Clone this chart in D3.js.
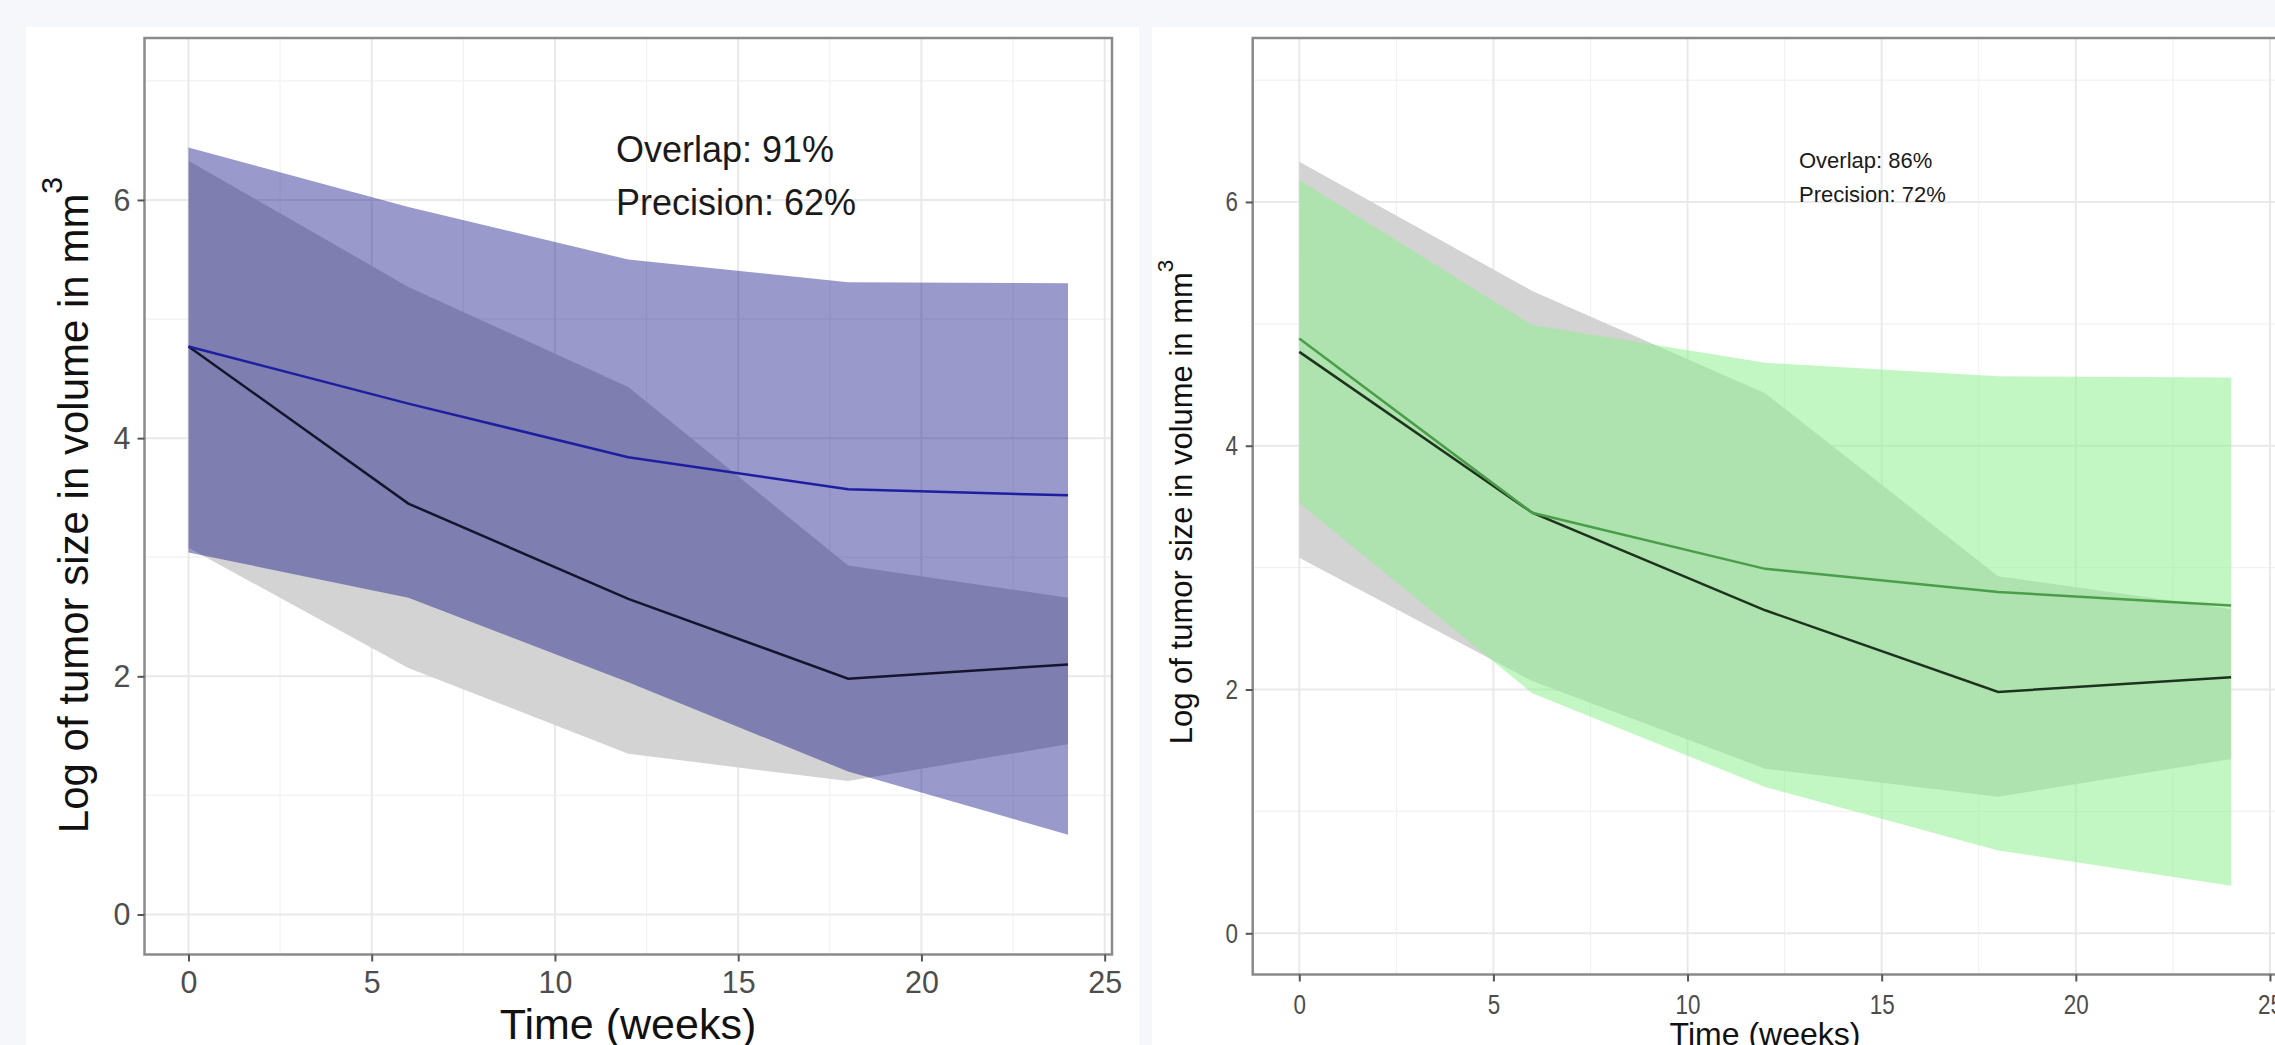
<!DOCTYPE html>
<html><head><meta charset="utf-8">
<script src="https://cdn.jsdelivr.net/npm/d3@7"></script>
<style>
html,body{margin:0;padding:0;background:#f6f7fb;}
svg{display:block;font-family:"Liberation Sans",Arial,Helvetica,sans-serif;}
</style></head><body>
<svg id="c" width="2275" height="1045"></svg>
<script>
// ---------------- data ----------------
const weeks = [0, 6, 12, 18, 24];
const observedMean  = [4.77, 3.45, 2.65, 1.98, 2.10];
const observedUpper = [6.33, 5.27, 4.43, 2.93, 2.66];
const observedLower = [3.08, 2.07, 1.35, 1.12, 1.43];

const predAMean  = [4.77, 4.29, 3.84, 3.57, 3.52];
const predAUpper = [6.44, 5.94, 5.50, 5.31, 5.30];
const predALower = [3.04, 2.66, 1.95, 1.20, 0.67];

const predBMean  = [4.88, 3.45, 2.99, 2.80, 2.69];
const predBUpper = [6.18, 4.99, 4.68, 4.57, 4.56];
const predBLower = [3.53, 1.97, 1.20, 0.68, 0.39];

const xTicks = [0, 5, 10, 15, 20, 25];
const xMinor = [2.5, 7.5, 12.5, 17.5, 22.5];
const yTicks = [0, 2, 4, 6];
const yMinor = [1, 3, 5, 7];
const annotationsA = ["Overlap: 91%", "Precision: 62%"];
const annotationsB = ["Overlap: 86%", "Precision: 72%"];
const xTitle = "Time (weeks)";
const yTitle = "Log of tumor size in volume in mm";
const yTitleSup = "3";

// ---------------- layout ----------------
const svg = d3.select("#c");

const panels = [
  {
    bg: [26, 27, 1113, 1030],
    plot: {x0: 144.5, x1: 1112, y0: 38, y1: 954.5},
    xDom: [-1.2, 25.2], yDom: [-0.336, 7.36],
    mean: predAMean, upper: predAUpper, lower: predALower,
    fill: "#000080", fillOp: 0.4, lineCol: "#1e1ea0", obsLine: "#15152e",
    ann: annotationsA, annX: 616, annY: [162, 215], annFont: 36,
    tickFont: 32, tickSx: 0.95, xPad: 9, yPad: 7,
    xtFont: 43, xtX: 628, xtY: 1039,
    ytFont: 42, ytX: 88, ytY: 505
  },
  {
    bg: [1152, 27, 1130, 1030],
    plot: {x0: 1252.7, x1: 2277.7, y0: 38, y1: 974.5},
    xDom: [-1.2, 25.2], yDom: [-0.338, 7.345],
    mean: predBMean, upper: predBUpper, lower: predBLower,
    fill: "#90ee90", fillOp: 0.55, lineCol: "#4a9e4a", obsLine: "#1e331e",
    ann: annotationsB, annX: 1799, annY: [168, 202], annFont: 22,
    tickFont: 28, tickSx: 0.8, xPad: 13, yPad: 7.7,
    xtFont: 32, xtX: 1765, xtY: 1045,
    ytFont: 31, ytX: 1192, ytY: 502
  }
];

panels.forEach((P, i) => {
  const p = P.plot;
  svg.append("rect").attr("x", P.bg[0]).attr("y", P.bg[1]).attr("width", P.bg[2]).attr("height", P.bg[3]).attr("fill", "#ffffff");

  const x = d3.scaleLinear().domain(P.xDom).range([p.x0, p.x1]);
  const y = d3.scaleLinear().domain(P.yDom).range([p.y1, p.y0]);

  const clipId = "clip" + i;
  svg.append("clipPath").attr("id", clipId).append("rect")
    .attr("x", p.x0).attr("y", p.y0).attr("width", p.x1 - p.x0).attr("height", p.y1 - p.y0);
  const g = svg.append("g").attr("clip-path", `url(#${clipId})`);

  // grid
  g.selectAll(".xmin").data(xMinor).join("line").attr("x1", d => x(d)).attr("x2", d => x(d))
    .attr("y1", p.y0).attr("y2", p.y1).attr("stroke", "#f1f1f1").attr("stroke-width", 1.2);
  g.selectAll(".ymin").data(yMinor).join("line").attr("y1", d => y(d)).attr("y2", d => y(d))
    .attr("x1", p.x0).attr("x2", p.x1).attr("stroke", "#f1f1f1").attr("stroke-width", 1.2);
  g.selectAll(".xmaj").data(xTicks).join("line").attr("x1", d => x(d)).attr("x2", d => x(d))
    .attr("y1", p.y0).attr("y2", p.y1).attr("stroke", "#e9e9e9").attr("stroke-width", 2);
  g.selectAll(".ymaj").data(yTicks).join("line").attr("y1", d => y(d)).attr("y2", d => y(d))
    .attr("x1", p.x0).attr("x2", p.x1).attr("stroke", "#e9e9e9").attr("stroke-width", 2);

  const obs = weeks.map((t, k) => ({t, m: observedMean[k], lo: observedLower[k], hi: observedUpper[k]}));
  const pred = weeks.map((t, k) => ({t, m: P.mean[k], lo: P.lower[k], hi: P.upper[k]}));

  const area = d3.area().x(d => x(d.t)).y0(d => y(d.lo)).y1(d => y(d.hi));
  const line = d3.line().x(d => x(d.t)).y(d => y(d.m));

  g.append("path").datum(obs).attr("d", area).attr("fill", "#d3d3d3");
  g.append("path").datum(pred).attr("d", area).attr("fill", P.fill).attr("fill-opacity", P.fillOp);
  g.append("path").datum(obs).attr("d", line).attr("fill", "none").attr("stroke", P.obsLine).attr("stroke-width", 2.5);
  g.append("path").datum(pred).attr("d", line).attr("fill", "none").attr("stroke", P.lineCol).attr("stroke-width", 2.5);

  // border
  svg.append("rect").attr("x", p.x0).attr("y", p.y0).attr("width", p.x1 - p.x0).attr("height", p.y1 - p.y0)
    .attr("fill", "none").attr("stroke", "#8a8a8a").attr("stroke-width", 2.5);

  // axes
  const gx = svg.append("g").attr("transform", `translate(0,${p.y1})`)
    .call(d3.axisBottom(x).tickValues(xTicks).tickFormat(d3.format("d")).tickSize(7).tickPadding(P.xPad));
  gx.select(".domain").remove();
  gx.selectAll("line").attr("stroke", "#555").attr("stroke-width", 2);
  gx.selectAll("text").attr("font-size", P.tickFont).attr("fill", "#4d4d4d")
    .attr("font-family", "Liberation Sans, Arial, sans-serif")
    .attr("transform", `scale(${P.tickSx},1)`);

  const gy = svg.append("g").attr("transform", `translate(${p.x0},0)`)
    .call(d3.axisLeft(y).tickValues(yTicks).tickFormat(d3.format("d")).tickSize(7).tickPadding(P.yPad));
  gy.select(".domain").remove();
  gy.selectAll("line").attr("stroke", "#555").attr("stroke-width", 2);
  gy.selectAll("text").attr("font-size", P.tickFont).attr("fill", "#4d4d4d")
    .attr("font-family", "Liberation Sans, Arial, sans-serif")
    .attr("x", -(7 + P.yPad) / P.tickSx)
    .attr("transform", `scale(${P.tickSx},1)`);

  // titles
  svg.append("text").attr("x", P.xtX).attr("y", P.xtY).attr("text-anchor", "middle")
    .attr("font-size", P.xtFont).attr("fill", "#111").text(xTitle);
  const yt = svg.append("text").attr("transform", `translate(${P.ytX},${P.ytY}) rotate(-90)`)
    .attr("text-anchor", "middle").attr("font-size", P.ytFont).attr("fill", "#111");
  yt.append("tspan").text(yTitle);
  yt.append("tspan").attr("font-size", P.ytFont * 0.72).attr("dy", -P.ytFont * 0.62).text(yTitleSup);

  // annotations
  svg.selectAll(null).data(P.ann).join("text")
    .attr("x", P.annX).attr("y", (d, k) => P.annY[k])
    .attr("font-size", P.annFont).attr("fill", "#1a1a1a").text(d => d);
});
</script>
</body></html>
